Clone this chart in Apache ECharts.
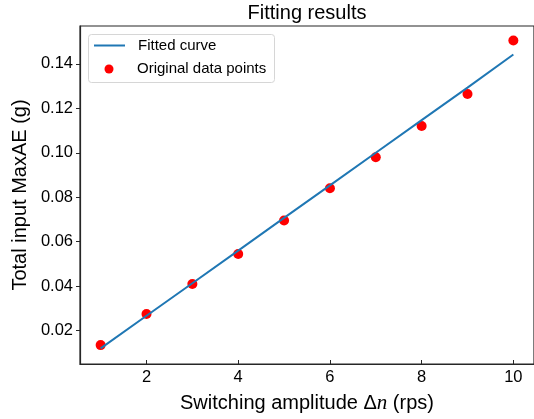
<!DOCTYPE html>
<html>
<head>
<meta charset="utf-8">
<script src="https://cdn.jsdelivr.net/npm/echarts@6/dist/echarts.min.js"></script>
<style>html,body{margin:0;padding:0;background:#fff}#c{width:534px;height:419px}</style>
</head>
<body>
<div id="c"></div>
<script>
const xValues = [1, 2, 3, 4, 5, 6, 7, 8, 9, 10];
const originalPoints = [0.0135, 0.0275, 0.041, 0.0545, 0.0695, 0.084, 0.098, 0.112, 0.1264, 0.1505];
const fittedCurve = [0.0120, 0.0267, 0.0413, 0.0560, 0.0707, 0.0853, 0.1000, 0.1147, 0.1293, 0.1442];
const xTicks = [2, 4, 6, 8, 10];
const yTicks = [0.02, 0.04, 0.06, 0.08, 0.10, 0.12, 0.14];

const font = 'Liberation Sans, Arial, sans-serif';
const chart = echarts.init(document.getElementById('c'), null, {renderer: 'canvas'});
chart.setOption({
  animation: false,
  backgroundColor: '#fff',
  title: {
    text: 'Fitting results', left: 302, top: -2, textAlign: 'center',
    textStyle: {fontFamily: font, fontSize: 20, fontWeight: 'normal', color: '#000'}
  },
  grid: {left: 80, top: 26, width: 455.5, height: 339, show: true, borderColor: '#262626', borderWidth: 1.2, backgroundColor: 'transparent'},
  graphic: [{
    type: 'rect', left: 88, top: 34, z: 0,
    shape: {width: 186, height: 48, r: 3},
    style: {fill: 'rgba(255,255,255,0.8)', stroke: '#d6d6d6', lineWidth: 1}
  }],
  legend: [
    {
      left: 93, top: 38, padding: 0,
      itemWidth: 31, itemHeight: 14,
      textStyle: {fontFamily: font, fontSize: 15, color: '#000', padding: [0, 0, 0, 8]},
      data: [{name: 'Fitted curve', itemStyle: {color: 'rgba(0,0,0,0)', borderWidth: 0, opacity: 0}}]
    },
    {
      left: 104.5, top: 61.5, padding: 0,
      itemWidth: 9, itemHeight: 9,
      textStyle: {fontFamily: font, fontSize: 15, color: '#000', padding: [0, 0, 0, 18.5]},
      data: [{name: 'Original data points', icon: 'circle'}]
    }
  ],
  xAxis: {
    type: 'value', min: 0.55, max: 10.45,
    name: 'Switching amplitude Δ{i|n} (rps)', nameLocation: 'middle', nameGap: 29,
    nameTextStyle: {fontFamily: font, fontSize: 20, color: '#000',
      rich: {i: {fontFamily: 'Liberation Serif, DejaVu Serif, serif', fontStyle: 'italic', fontSize: 21, color: '#000'}}},
    splitLine: {show: false},
    axisLine: {show: true, onZero: false, lineStyle: {color: '#262626', width: 1.2}},
    axisTick: {show: true, inside: true, length: 4, customValues: xTicks, lineStyle: {color: '#262626', width: 1}},
    axisLabel: {customValues: xTicks, margin: 5, fontFamily: font, fontSize: 16.5, color: '#000'}
  },
  yAxis: {
    type: 'value', min: 0.005, max: 0.157,
    name: 'Total input MaxAE (g)', nameLocation: 'middle', nameGap: 50,
    nameTextStyle: {fontFamily: font, fontSize: 20, color: '#000'},
    splitLine: {show: false},
    axisLine: {show: true, onZero: false, lineStyle: {color: '#262626', width: 1.2}},
    axisTick: {show: true, inside: false, length: 4, customValues: yTicks, lineStyle: {color: '#262626', width: 1}},
    axisLabel: {customValues: yTicks, margin: 7, fontFamily: font, fontSize: 16.5, color: '#000',
      formatter: v => v.toFixed(2)}
  },
  series: [
    {
      name: 'Fitted curve', type: 'line', symbol: 'none', showSymbol: false,
      data: xValues.map((x, i) => [x, fittedCurve[i]]),
      lineStyle: {color: '#1f77b4', width: 2}, itemStyle: {color: '#1f77b4'}, z: 2
    },
    {
      name: 'Original data points', type: 'scatter', symbol: 'circle', symbolSize: 10,
      data: xValues.map((x, i) => [x, originalPoints[i]]),
      itemStyle: {color: '#ff0000', opacity: 1}, z: 1
    }
  ]
});
</script>
</body>
</html>
